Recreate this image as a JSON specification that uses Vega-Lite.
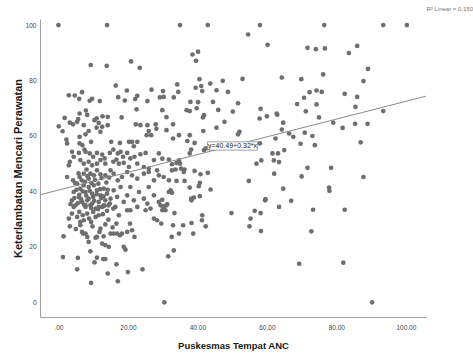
{
  "$schema": "https://vega.github.io/schema/vega-lite/v6.json",
  "autosize": "none",
  "width": 386,
  "height": 298,
  "padding": {"left": 40, "top": 19, "right": 47, "bottom": 39},
  "background": "white",
  "config": {
    "view": {"stroke": null},
    "font": "Liberation Sans",
    "axis": {"grid": false, "ticks": false, "domainColor": "#a0a0a0", "labelColor": "#444444", "labelFontSize": 6.5, "labelFont": "Liberation Sans", "titleFont": "Liberation Sans", "titleFontWeight": "bold", "titleColor": "#1a1a1a"}
  },
  "title": {"text": "R² Linear = 0.150", "anchor": "end", "fontSize": 6, "fontWeight": "normal", "color": "#777777", "dx": 45, "offset": 7, "font": "Liberation Sans"},
  "datasets": {
    "pts": [
      {"x":0,"y":100},{"x":14,"y":100},{"x":35,"y":100},{"x":43,"y":100},{"x":58,"y":100},{"x":76.5,"y":100},{"x":93.5,"y":100},{"x":100.3,"y":100},{"x":30.5,"y":0},{"x":90.3,"y":0},
      {"x":9.3,"y":85.6},{"x":13.9,"y":85.3},{"x":20.9,"y":86.9},{"x":23.4,"y":84.6},{"x":16.5,"y":78.2},{"x":3.0,"y":74.7},{"x":4.7,"y":74.6},{"x":6.0,"y":73.4},{"x":6.8,"y":75.8},{"x":9.0,"y":72.7},{"x":9.7,"y":73.4},{"x":11.9,"y":72.6},{"x":17.2,"y":74.0},{"x":19.1,"y":72.8},{"x":19.7,"y":76.4},{"x":22.1,"y":73.3},{"x":22.7,"y":74.5},{"x":25.6,"y":72.6},{"x":26.8,"y":76.7},{"x":29.2,"y":73.9},{"x":22.5,"y":69.6},{"x":6.1,"y":68.1},{"x":7.9,"y":69.2},{"x":8.3,"y":67.6},{"x":1.8,"y":66.5},{"x":5.7,"y":66.1},{"x":11,"y":66.4},{"x":12.7,"y":67.1},{"x":14.2,"y":66.9},{"x":18.2,"y":66.7},
      {"x":0.1,"y":63.5},{"x":1.2,"y":61.7},{"x":3.3,"y":64.8},{"x":4.2,"y":64.2},{"x":5.4,"y":65.1},{"x":7.3,"y":63.9},{"x":10.4,"y":65.7},{"x":11.6,"y":64.7},{"x":11.0,"y":63.0},{"x":12.6,"y":63.3},{"x":12.1,"y":61.5},{"x":7.8,"y":60.6},{"x":6.1,"y":59.7},{"x":8.7,"y":61.8},{"x":14.2,"y":63.9},
      {"x":2.3,"y":58.7},{"x":2.5,"y":57.3},{"x":6.1,"y":57.3},{"x":6.9,"y":56.7},{"x":7.5,"y":55.1},{"x":9.4,"y":57.9},{"x":15.2,"y":57.9},{"x":17.7,"y":57.5},{"x":20.3,"y":57.9},{"x":21.2,"y":57.9},{"x":21.7,"y":56.3},{"x":22.7,"y":57.9},{"x":23.6,"y":63.9},{"x":22.3,"y":64.2},{"x":25.6,"y":63.9},{"x":26.0,"y":61.8},{"x":25.4,"y":60.3},{"x":26.7,"y":60.3},{"x":28.0,"y":64.2},{"x":28.2,"y":62.6},
      {"x":3.9,"y":54.3},{"x":5.9,"y":53.9},{"x":4.4,"y":52.5},{"x":3.3,"y":50.7},{"x":3.0,"y":49.4},{"x":7.8,"y":54.3},{"x":9.0,"y":53.7},{"x":10.0,"y":52.5},{"x":11.1,"y":53.9},{"x":12.6,"y":53.3},{"x":13.3,"y":51.9},{"x":14.8,"y":53.9},{"x":15.8,"y":55.1},{"x":17.1,"y":53.7},{"x":17.9,"y":54.3},{"x":18.6,"y":52.5},{"x":19.8,"y":53.9},{"x":20.7,"y":51.9},{"x":21.9,"y":52.5},{"x":23.6,"y":53.4},{"x":25.1,"y":53.9},{"x":27.5,"y":51.3},{"x":28.9,"y":53.7},
      {"x":6.3,"y":51.3},{"x":7.3,"y":50.0},{"x":8.7,"y":50.7},{"x":9.7,"y":49.4},{"x":11.1,"y":50.0},{"x":12.1,"y":51.3},{"x":13.5,"y":50.0},{"x":15.8,"y":50.7},{"x":16.7,"y":51.5},{"x":17.4,"y":50.0},{"x":18.8,"y":50.3},{"x":20.3,"y":48.8},{"x":22.7,"y":50.0},{"x":24.6,"y":48.8},{"x":26.0,"y":48.2},{"x":28.4,"y":47.6},
      {"x":2.5,"y":45.2},{"x":4.2,"y":44.0},{"x":6.1,"y":45.2},{"x":7.3,"y":46.4},{"x":8.1,"y":47.9},{"x":9.2,"y":46.4},{"x":8.7,"y":44.6},{"x":10.2,"y":45.8},{"x":11.1,"y":47.6},{"x":12.1,"y":46.2},{"x":13.5,"y":45.8},{"x":15.0,"y":47.6},{"x":15.9,"y":46.4},{"x":17.1,"y":44.0},{"x":18.3,"y":45.2},{"x":19.8,"y":47.0},{"x":21.2,"y":45.8},{"x":22.7,"y":44.6},{"x":24.6,"y":46.4},{"x":26.0,"y":47.0},{"x":27.5,"y":44.0},{"x":28.9,"y":45.8},
      {"x":5.4,"y":42.8},{"x":6.3,"y":41.0},{"x":7.3,"y":42.2},{"x":7.8,"y":39.8},{"x":8.7,"y":41.6},{"x":9.7,"y":39.2},{"x":10.2,"y":42.2},{"x":11.1,"y":40.4},{"x":12.1,"y":38.6},{"x":13.1,"y":41.0},{"x":14.0,"y":39.2},{"x":15.0,"y":37.4},{"x":5.9,"y":38.0},{"x":6.8,"y":36.2},{"x":7.8,"y":34.4},{"x":8.7,"y":37.4},{"x":9.7,"y":35.6},{"x":10.7,"y":33.8},{"x":11.6,"y":36.2},{"x":12.6,"y":34.4},{"x":13.5,"y":36.8},{"x":14.4,"y":35.0},{"x":4.4,"y":39.8},{"x":3.9,"y":36.8},{"x":4.9,"y":35.0},{"x":15.9,"y":40.4},{"x":16.9,"y":38.0},{"x":17.9,"y":41.6},{"x":18.8,"y":36.2},{"x":19.8,"y":38.6},{"x":20.7,"y":41.6},{"x":21.7,"y":36.8},{"x":23.2,"y":39.8},{"x":24.6,"y":37.4},{"x":26.0,"y":41.6},{"x":27.5,"y":38.6},{"x":28.9,"y":36.2},{"x":22.7,"y":34.4},{"x":26.5,"y":33.8},
      {"x":4.8,"y":43.0},{"x":5.8,"y":46.5},{"x":6.7,"y":44.0},{"x":7.6,"y":43.5},{"x":8.4,"y":45.5},{"x":9.5,"y":43.0},{"x":10.5,"y":44.2},{"x":11.5,"y":42.8},{"x":12.4,"y":44.8},{"x":13.8,"y":43.2},{"x":14.6,"y":45.0},{"x":5.2,"y":40.6},{"x":6.0,"y":38.8},{"x":7.0,"y":40.0},{"x":8.0,"y":38.5},{"x":9.0,"y":40.2},{"x":10.0,"y":38.0},{"x":11.0,"y":39.0},{"x":12.0,"y":40.8},{"x":13.0,"y":38.2},{"x":14.2,"y":40.6},{"x":4.6,"y":37.6},{"x":5.6,"y":35.8},{"x":6.5,"y":37.2},{"x":7.4,"y":35.2},{"x":8.3,"y":36.8},{"x":9.4,"y":34.0},{"x":10.3,"y":36.6},{"x":11.4,"y":33.6},{"x":12.3,"y":37.6},{"x":13.2,"y":34.8},{"x":14.0,"y":33.0},{"x":6.0,"y":32.6},{"x":7.0,"y":31.4},{"x":8.8,"y":30.2},{"x":10.0,"y":32.6},{"x":12.8,"y":31.8},{"x":14.4,"y":29.8},{"x":15.6,"y":27.0},{"x":9.8,"y":27.4},{"x":5.0,"y":26.4},{"x":11.8,"y":25.4},{"x":13.0,"y":23.8},
      {"x":1.5,"y":23.8},{"x":1.3,"y":16.3},{"x":5.6,"y":16.0},{"x":5.4,"y":11.9},{"x":9.2,"y":18.4},{"x":10.4,"y":14.4},{"x":11.1,"y":16.1},{"x":12.9,"y":15.6},{"x":13.5,"y":15.6},{"x":14.2,"y":10.4},{"x":16.7,"y":13.7},{"x":17.1,"y":7.6},{"x":9.4,"y":7.0},{"x":20.0,"y":10.9},{"x":24.2,"y":11.9},{"x":3.0,"y":30.2},{"x":3.3,"y":27.4},
      {"x":3.5,"y":35.4},{"x":4.4,"y":34.4},{"x":3.9,"y":32.0},{"x":5.4,"y":30.8},{"x":6.3,"y":29.0},{"x":7.3,"y":29.6},{"x":6.8,"y":25.4},{"x":7.8,"y":24.8},{"x":8.3,"y":23.6},{"x":8.7,"y":21.8},{"x":10.7,"y":23.3},{"x":11.1,"y":23.6},{"x":12.1,"y":26.6},{"x":12.6,"y":21.2},{"x":13.5,"y":28.1},{"x":13.5,"y":20.6},{"x":14.5,"y":20.0},{"x":15.0,"y":24.8},{"x":15.9,"y":24.8},{"x":16.9,"y":24.8},{"x":17.7,"y":24.2},{"x":18.3,"y":24.8},{"x":18.8,"y":20.0},{"x":19.3,"y":19.0},{"x":19.8,"y":25.4},{"x":20.6,"y":28.4},{"x":21.2,"y":26.0},{"x":21.9,"y":23.6},{"x":20.7,"y":33.2},{"x":19.8,"y":33.2},{"x":25.1,"y":33.2},{"x":25.6,"y":35.6},{"x":27.5,"y":30.2},{"x":28.4,"y":29.6},{"x":16.7,"y":28.4},{"x":17.4,"y":31.4},{"x":16.4,"y":34.4},{"x":15.8,"y":33.8},{"x":14.8,"y":35.6},{"x":13.1,"y":35.0},{"x":11.6,"y":34.4},{"x":9.2,"y":35.0},{"x":8.3,"y":32.0},{"x":7.8,"y":35.0},{"x":10.7,"y":30.8},{"x":11.6,"y":31.4},{"x":9.4,"y":29.0},{"x":6.3,"y":27.8},{"x":7.1,"y":24.8},
      {"x":54.6,"y":96.6},{"x":60.2,"y":92.9},{"x":38.6,"y":89.4},{"x":40.2,"y":90.4},{"x":39.6,"y":87.1},{"x":30.1,"y":76.2},{"x":30.3,"y":74.1},{"x":33.2,"y":73.9},{"x":34.2,"y":78.6},{"x":34.5,"y":75.9},{"x":40.6,"y":80.5},{"x":39.5,"y":77.4},{"x":41.1,"y":78.0},{"x":41.4,"y":76.2},{"x":43.7,"y":78.9},{"x":45.5,"y":76.5},{"x":47.3,"y":79.9},{"x":48.8,"y":75.9},{"x":53.0,"y":80.6},{"x":38.0,"y":72.3},{"x":40.2,"y":72.2},{"x":44.5,"y":72.3},{"x":51.7,"y":71.8},{"x":29.9,"y":69.3},{"x":36.9,"y":69.3},{"x":37.8,"y":69.0},{"x":39.8,"y":70.0},{"x":46.0,"y":69.4},{"x":50.2,"y":68.8},{"x":31.1,"y":66.8},{"x":41.9,"y":67.5},{"x":41.6,"y":66.7},{"x":58.2,"y":69.8},{"x":57.9,"y":66.3},{"x":60.0,"y":67.1},{"x":63.0,"y":67.7},
      {"x":71.7,"y":91.8},{"x":74.1,"y":91.3},{"x":76.7,"y":91.6},{"x":83.6,"y":89.9},{"x":86.0,"y":92.5},{"x":89.1,"y":84.2},{"x":87.8,"y":79.8},{"x":64.3,"y":81.1},{"x":69.9,"y":80.5},{"x":76.2,"y":82.2},{"x":72.3,"y":75.8},{"x":70.7,"y":73.8},{"x":74.3,"y":76.4},{"x":75.8,"y":75.9},{"x":82.4,"y":75.2},{"x":86.0,"y":74.1},{"x":68.7,"y":71.5},{"x":74.3,"y":71.4},{"x":85.5,"y":70.5},{"x":71.2,"y":68.9},{"x":62.8,"y":68.1},{"x":75.0,"y":66.7},{"x":93.5,"y":69.0},
      {"x":31.1,"y":62.1},{"x":33.0,"y":64.2},{"x":34.7,"y":60.3},{"x":33.0,"y":59.1},{"x":37.8,"y":60.3},{"x":37.1,"y":58.2},{"x":39.2,"y":57.5},{"x":41.7,"y":61.8},{"x":45.5,"y":63.0},{"x":47.8,"y":65.1},{"x":51.7,"y":60.6},{"x":52.1,"y":61.5},{"x":58.0,"y":57.3},{"x":57.0,"y":50.0},{"x":58.4,"y":51.2},{"x":61.6,"y":53.7},{"x":62.0,"y":51.2},{"x":63.5,"y":50.6},{"x":63.2,"y":53.7},{"x":37.8,"y":53.7},{"x":38.2,"y":55.1},{"x":41.9,"y":54.9},{"x":42.4,"y":55.5},
      {"x":29.9,"y":51.8},{"x":31.8,"y":51.5},{"x":32.7,"y":49.8},{"x":34.0,"y":50.3},{"x":35.0,"y":50.0},{"x":35.3,"y":48.2},{"x":34.7,"y":51.2},{"x":32.7,"y":47.6},{"x":33.7,"y":47.9},{"x":36.1,"y":47.0},{"x":36.3,"y":47.9},{"x":39.2,"y":47.4},{"x":40.9,"y":46.2},{"x":43.0,"y":46.7},{"x":30.3,"y":45.2},{"x":31.8,"y":44.0},{"x":34.0,"y":43.8},{"x":36.3,"y":43.8},{"x":40.7,"y":43.1},{"x":40.4,"y":41.9},{"x":43.8,"y":40.7},{"x":37.8,"y":41.4},{"x":32.3,"y":40.4},{"x":31.8,"y":39.8},{"x":32.7,"y":39.5},{"x":29.9,"y":37.0},{"x":39.0,"y":37.8},{"x":40.7,"y":38.3},{"x":38.2,"y":37.4},{"x":54.8,"y":43.8},{"x":59.6,"y":37.2},{"x":63.5,"y":34.4},{"x":30.3,"y":34.4},{"x":31.3,"y":35.4},{"x":30.8,"y":33.2},
      {"x":29.4,"y":35.0},{"x":30.3,"y":34.6},{"x":31.1,"y":35.0},{"x":29.9,"y":33.2},{"x":29.6,"y":28.4},{"x":33.4,"y":32.2},{"x":33.0,"y":27.8},{"x":35.9,"y":27.8},{"x":38.3,"y":28.6},{"x":41.4,"y":31.4},{"x":41.3,"y":29.6},{"x":42.4,"y":27.4},{"x":32.6,"y":23.6},{"x":34.7,"y":24.8},{"x":38.8,"y":24.8},{"x":33.2,"y":18.7},{"x":31.6,"y":16.6},{"x":49.8,"y":32.2},{"x":55.3,"y":30.2},{"x":56.5,"y":33.0},{"x":58.2,"y":32.2},{"x":55.0,"y":27.4},{"x":58.3,"y":25.7},{"x":59.5,"y":36.8},{"x":38.3,"y":36.8},
      {"x":64.7,"y":64.8},{"x":64.3,"y":62.3},{"x":66.4,"y":60.9},{"x":67.6,"y":59.7},{"x":62.5,"y":59.1},{"x":70.9,"y":61.2},{"x":73.1,"y":60.0},{"x":79.1,"y":64.8},{"x":81.8,"y":62.9},{"x":85.4,"y":64.4},{"x":89.0,"y":64.4},{"x":69.7,"y":57.2},{"x":73.8,"y":56.7},{"x":87.0,"y":57.7},{"x":65.0,"y":54.9},{"x":71.7,"y":48.5},{"x":78.5,"y":48.5},{"x":62.1,"y":46.4},{"x":70.0,"y":45.4},{"x":87.8,"y":45.2},{"x":64.7,"y":41.0},{"x":77.9,"y":41.4},{"x":78.0,"y":40.2},{"x":67.0,"y":36.6},{"x":73.3,"y":33.4},{"x":82.4,"y":33.4},{"x":72.8,"y":25.6},{"x":69.3,"y":13.9},{"x":82.0,"y":14.3}
    ],
    "fit": [{"x": -5.3, "y": 38.79}, {"x": 105.8, "y": 74.35}]
  },
  "layer": [
    {
      "data": {"name": "pts"},
      "mark": {"type": "circle", "size": 22, "color": "#6e6e6e", "opacity": 1},
      "encoding": {
        "x": {"field": "x", "type": "quantitative", "title": "Puskesmas Tempat ANC", "scale": {"domain": [-5.3, 105.8], "nice": false, "zero": false}, "axis": {"values": [0, 20, 40, 60, 80, 100], "labelExpr": "datum.value == 0 ? '.00' : format(datum.value, '.2f')", "labelPadding": 7, "titlePadding": 10, "titleFontSize": 9.5}},
        "y": {"field": "y", "type": "quantitative", "title": "Keterlambatan Mencari Perawatan", "scale": {"domain": [-5.3, 102.2], "nice": false, "zero": false}, "axis": {"values": [0, 20, 40, 60, 80, 100], "labelPadding": 4, "titlePadding": 2, "titleFontSize": 11}}
      }
    },
    {
      "data": {"name": "fit"},
      "mark": {"type": "line", "color": "#8a8a8a", "strokeWidth": 1},
      "encoding": {"x": {"field": "x", "type": "quantitative"}, "y": {"field": "y", "type": "quantitative"}}
    },
    {
      "data": {"values": [{}]},
      "mark": {"type": "rect", "color": "white", "fill": "white", "stroke": "#8a8a8a", "strokeWidth": 0.8, "opacity": 1},
      "encoding": {"x": {"datum": 42.9}, "x2": {"datum": 57.3}, "y": {"datum": 54.9}, "y2": {"datum": 57.9}}
    },
    {
      "data": {"values": [{"label": "y=40.49+0.32*x"}]},
      "mark": {"type": "text", "fontSize": 7, "color": "#222222", "font": "Liberation Sans"},
      "encoding": {"x": {"datum": 50.1}, "y": {"datum": 56.4}, "text": {"field": "label"}}
    }
  ]
}
